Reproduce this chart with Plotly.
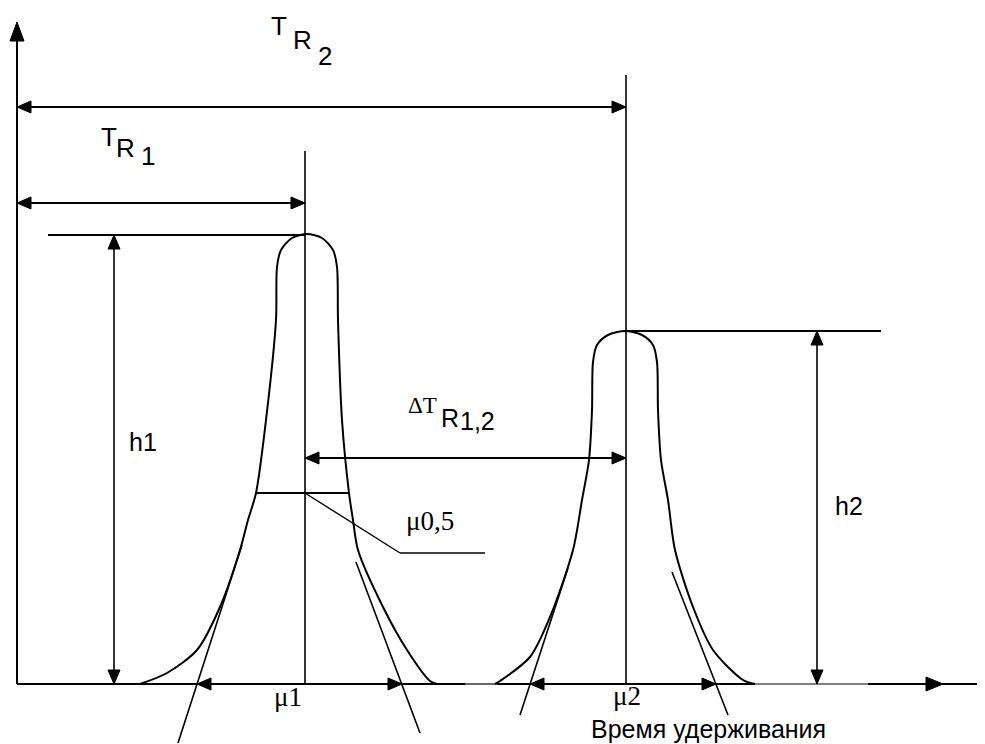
import plotly.graph_objects as go

W, H = 985, 744
PAGE_MARGIN = 8       # default body margin of the html page
BASE_Y = 684          # baseline (time axis) position
AXIS_X = 17           # signal axis position

# ---- peak outlines (pixel-like diagram units) ----
peak1_x = [140, 167, 197, 220, 240, 248, 256, 266, 276, 277, 281, 292, 307, 322, 333, 337,
           338, 342, 349, 353, 358, 383, 407, 430, 437]
peak1_y = [684, 673, 650, 607, 550, 520, 493, 420, 320, 267, 250, 238, 234, 238, 250, 267,
           320, 420, 493, 520, 550, 607, 650, 681, 684]
peak2_x = [495, 500, 530, 550, 573, 582, 589, 592, 593, 597, 608, 625, 642, 653, 657,
           658, 661, 668, 675, 693, 713, 743, 755]
peak2_y = [684, 681, 657, 617, 550, 500, 460, 410, 362, 345, 335, 331, 335, 345, 362,
           410, 460, 500, 550, 607, 650, 680, 684]

# retention marks
retention_x = [305, 626]
retention_line_top = [151, 75]
peak_height_y = [235, 331]

# tangents (x0, y0, x1, y1)
tangents = [
    (178, 743, 242, 545),
    (420, 733, 356, 562),
    (520, 715, 568, 568),
    (728, 715, 672, 572),
]
# peak widths at baseline
width1 = (197, 402)
width2 = (530, 716)
# half height
half_y = 493
half_x = (256, 349)
leader_x = [305, 400, 485]
leader_y = [493, 553, 553]

# dimension lines
tr2_y, tr1_y, dtr_y = 107, 203, 458
h1_x, h1_line_x0 = 114, 48
h2_x, h2_line_x1 = 817, 881

BLACK = "black"
shapes = []


def line(x0, y0, x1, y1, w=2.0):
    shapes.append(dict(type="line", x0=x0, y0=y0, x1=x1, y1=y1,
                       line=dict(color=BLACK, width=w), layer="above"))


def head(tx, ty, fx, fy, L=14, hw=6):
    # filled triangle with tip at (tx,ty) pointing away from (fx,fy)
    dx, dy = tx - fx, ty - fy
    n = (dx * dx + dy * dy) ** 0.5
    ux, uy = dx / n, dy / n
    bx, by = tx - ux * L, ty - uy * L
    px, py = -uy * hw, ux * hw
    path = f"M {tx},{ty} L {bx+px},{by+py} L {bx-px},{by-py} Z"
    shapes.append(dict(type="path", path=path, fillcolor=BLACK,
                       line=dict(color=BLACK, width=1), layer="above"))


def darrow(x0, y0, x1, y1, w=2.0, L=14, hw=6):
    line(x0, y0, x1, y1, w)
    head(x0, y0, x1, y1, L, hw)
    head(x1, y1, x0, y0, L, hw)


# axes
line(AXIS_X, BASE_Y, AXIS_X, 24, 2)
head(AXIS_X, 22, AXIS_X, BASE_Y, L=19, hw=7)
line(AXIS_X, BASE_Y, 465, BASE_Y, 2)
line(465, BASE_Y, 497, BASE_Y, 1.2)
line(497, BASE_Y, 755, BASE_Y, 2)
line(755, BASE_Y, 868, BASE_Y, 1.2)
line(868, BASE_Y, 985, BASE_Y, 2)
head(943, BASE_Y, 868, BASE_Y, L=17, hw=7)

# retention vertical lines
for rx, rt in zip(retention_x, retention_line_top):
    line(rx, rt, rx, BASE_Y, 1.6)

# T_R arrows
darrow(AXIS_X, tr2_y, retention_x[1], tr2_y)
darrow(AXIS_X, tr1_y, retention_x[0], tr1_y)
darrow(retention_x[0], dtr_y, retention_x[1], dtr_y)

# heights
line(h1_line_x0, peak_height_y[0], retention_x[0], peak_height_y[0], 2)
darrow(h1_x, peak_height_y[0], h1_x, BASE_Y, 1.6)
line(retention_x[1], peak_height_y[1], h2_line_x1, peak_height_y[1], 2)
darrow(h2_x, peak_height_y[1], h2_x, BASE_Y, 1.6)

# widths
darrow(width1[0], BASE_Y, width1[1], BASE_Y)
darrow(width2[0], BASE_Y, width2[1], BASE_Y)

# tangents
for t in tangents:
    line(*t, w=1.6)

# half height
line(half_x[0], half_y, half_x[1], half_y, 2)
line(leader_x[0], leader_y[0], leader_x[1], leader_y[1], 1.4)
line(leader_x[1], leader_y[1], leader_x[2], leader_y[2], 1.4)

fig = go.Figure()
for px, py in [(peak1_x, peak1_y), (peak2_x, peak2_y)]:
    fig.add_trace(go.Scatter(x=px, y=py, mode="lines",
                             line=dict(color=BLACK, width=2, shape="spline", smoothing=0.8),
                             hoverinfo="skip", showlegend=False))

SANS = "Liberation Sans, Arial, sans-serif"
SERIF = "Liberation Serif, Times New Roman, serif"

labels = [
    ("T", 279, 26, SANS, 26), ("R", 302, 40, SANS, 26), ("2", 324.5, 56, SANS, 26),
    ("T", 108.5, 137, SANS, 26), ("R", 125, 148, SANS, 26), ("1", 147.5, 156, SANS, 26),
    ("ΔT", 422.5, 405, SERIF, 23), ("R", 450, 418, SANS, 25), ("1,2", 477.5, 421, SANS, 25),
    ("h1", 143, 442, SANS, 25), ("h2", 849, 506, SANS, 25),
    ("μ0,5", 430, 521, SERIF, 27),
    ("μ1", 287.5, 697, SERIF, 27), ("μ2", 627, 696, SERIF, 27),
    ("Время удерживания", 708, 729, SANS, 25),
]
annotations = [dict(text=t, x=x, y=y, xref="x", yref="y", showarrow=False,
                    xanchor="center", yanchor="middle",
                    font=dict(family=f, size=s, color=BLACK))
               for t, x, y, f, s in labels]

fig.update_layout(
    width=W - PAGE_MARGIN, height=H - PAGE_MARGIN,
    margin=dict(l=0, r=0, t=0, b=0, pad=0),
    paper_bgcolor="white", plot_bgcolor="white",
    xaxis=dict(range=[PAGE_MARGIN, W], visible=False, fixedrange=True),
    yaxis=dict(range=[H, PAGE_MARGIN], visible=False, fixedrange=True),
    shapes=shapes, annotations=annotations,
)
fig.write_html("out.html")
